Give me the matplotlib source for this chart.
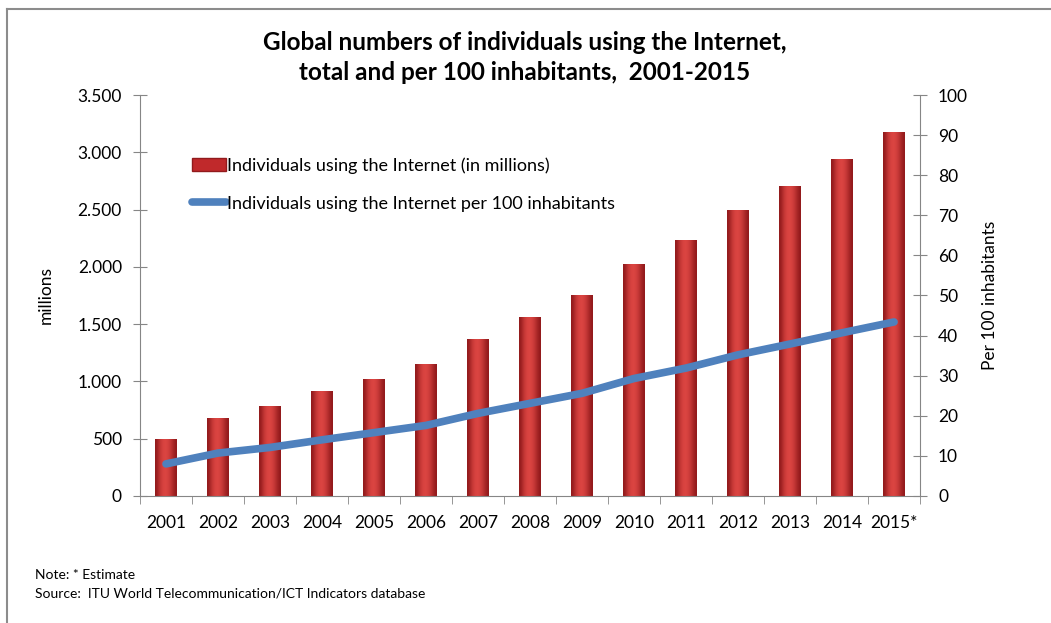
import matplotlib.pyplot as plt
import numpy as np
from matplotlib.lines import Line2D
from matplotlib.patches import Patch

plt.rcParams['font.family'] = ['Lato', 'DejaVu Sans']

years = ['2001', '2002', '2003', '2004', '2005', '2006', '2007', '2008',
         '2009', '2010', '2011', '2012', '2013', '2014', '2015*']
users_millions = [495, 677, 785, 913, 1024, 1152, 1367, 1563,
                  1752, 2023, 2231, 2494, 2708, 2941, 3174]
per_100 = [8.0, 10.7, 12.1, 14.0, 15.8, 17.6, 20.6, 23.1,
           25.6, 29.3, 31.9, 35.2, 37.9, 40.7, 43.4]

axis_grey = '#868686'
bar_red = '#C0292B'
line_blue = '#4F81BD'

fig = plt.figure(figsize=(10.51, 6.23), dpi=100)
ax = fig.add_axes([0.1332, 0.2039, 0.7422, 0.6436])
x = np.arange(len(years))

bars = ax.bar(x, users_millions, width=0.42, color=bar_red, zorder=2)

# horizontal shading so the bars look like the rounded excel columns
shade = np.array([0.0, 0.35, 0.7, 0.9, 1.0, 0.95, 0.8, 0.55, 0.25, 0.0])
cmap = plt.matplotlib.colors.LinearSegmentedColormap.from_list(
    'barshade', ['#921A1C', '#DC4542'])
for b in bars:
    x0, w, h = b.get_x(), b.get_width(), b.get_height()
    im = ax.imshow(shade[np.newaxis, :], cmap=cmap, aspect='auto',
                   extent=[x0, x0 + w, 0, h], zorder=2.1, interpolation='bicubic')
    im.set_clip_path(b)
ax.set_xlim(-0.5, len(years) - 0.5)
ax.set_ylim(0, 3500)

ax.set_yticks(np.arange(0, 3501, 500))
ax.set_yticklabels(['0' if v == 0 else f'{v:,}'.replace(',', '.')
                    for v in range(0, 3501, 500)])
ax.set_xticks(x)
ax.set_xticklabels(years)
ax.set_xticks(np.arange(-0.5, len(years), 1), minor=True)
ax.tick_params(axis='x', which='major', length=0, pad=14, labelsize=12.5)
ax.tick_params(axis='x', which='minor', length=6, color=axis_grey, direction='out')
ax.tick_params(axis='y', direction='inout', length=10, color=axis_grey,
               labelsize=12.5, pad=8)
ax.set_ylabel('millions', fontsize=12.5, labelpad=17)

for s in ['top', 'right']:
    ax.spines[s].set_visible(False)
for s in ['left', 'bottom']:
    ax.spines[s].set_color(axis_grey)

ax2 = ax.twinx()
ax2.plot(x, per_100, color=line_blue, linewidth=5.5, solid_capstyle='round',
         solid_joinstyle='round', zorder=3)
ax2.set_ylim(0, 100)
ax2.set_yticks(np.arange(0, 101, 10))
ax2.tick_params(axis='y', direction='inout', length=10, color=axis_grey,
                labelsize=12.5, pad=8)
ax2.set_ylabel('Per 100 inhabitants', fontsize=12.5, labelpad=10)
for s in ['top', 'left', 'bottom']:
    ax2.spines[s].set_visible(False)
ax2.spines['right'].set_color(axis_grey)

handles = [Patch(facecolor=bar_red, edgecolor='#921A1C'),
           Line2D([0], [0], color=line_blue, linewidth=5.5, solid_capstyle='round')]
labels = ['Individuals using the Internet (in millions)',
          'Individuals using the Internet per 100 inhabitants']
fig.legend(handles, labels, loc='upper left', bbox_to_anchor=(0.176, 0.759),
           frameon=False, fontsize=13, handlelength=1.85, handletextpad=0.1,
           labelspacing=1.2, borderaxespad=0)

fig.text(0.4995, 0.932, 'Global numbers of individuals using the Internet,',
         ha='center', va='center', fontsize=17.5, fontweight='bold')
fig.text(0.4995, 0.884, 'total and per 100 inhabitants,  2001-2015',
         ha='center', va='center', fontsize=17.5, fontweight='bold')

fig.text(0.033, 0.077, 'Note: * Estimate', fontsize=10, va='center')
fig.text(0.033, 0.048, 'Source:  ITU World Telecommunication/ICT Indicators database',
         fontsize=10, va='center')

# thin frame at top and left like the original screenshot
fig.add_artist(Line2D([0.0067, 1.0], [0.9856, 0.9856], color='#8C8C8C', linewidth=1.5))
fig.add_artist(Line2D([0.0067, 0.0067], [0.0, 0.9856], color='#8C8C8C', linewidth=1.5))

fig.savefig('out.png', dpi=100)
